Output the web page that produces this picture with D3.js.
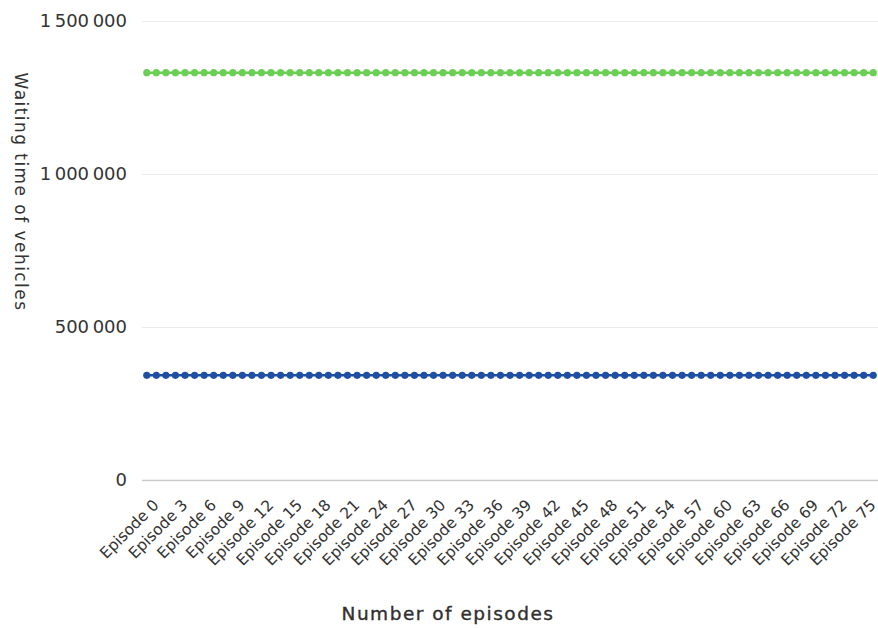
<!DOCTYPE html>
<html>
<head>
<meta charset="utf-8">
<script src="https://cdn.jsdelivr.net/npm/d3@7/dist/d3.min.js"></script>
<style>
  html, body { margin: 0; padding: 0; background: #fff; }
  svg { display: block; }
  text { font-family: "DejaVu Sans", sans-serif; fill: #333; }
</style>
</head>
<body>
<svg id="chart" width="878" height="628"></svg>
<script>
// ---- data ----
const categories = d3.range(0, 77).map(i => "Episode " + i);
const greenValues = [
  1331000,1331000,1331000,1331000,1331000,1331000,1331000,1331000,1331000,1331000,
  1331000,1331000,1331000,1331000,1331000,1331000,1331000,1331000,1331000,1331000,
  1331000,1331000,1331000,1331000,1331000,1331000,1331000,1331000,1331000,1331000,
  1331000,1331000,1331000,1331000,1331000,1331000,1331000,1331000,1331000,1331000,
  1331000,1331000,1331000,1331000,1331000,1331000,1331000,1331000,1331000,1331000,
  1331000,1331000,1331000,1331000,1331000,1331000,1331000,1331000,1331000,1331000,
  1331000,1331000,1331000,1331000,1331000,1331000,1331000,1331000,1331000,1331000,
  1331000,1331000,1331000,1331000,1331000,1331000,1331000
];
const blueValues = [
  342000,342000,342000,342000,342000,342000,342000,342000,342000,342000,
  342000,342000,342000,342000,342000,342000,342000,342000,342000,342000,
  342000,342000,342000,342000,342000,342000,342000,342000,342000,342000,
  342000,342000,342000,342000,342000,342000,342000,342000,342000,342000,
  342000,342000,342000,342000,342000,342000,342000,342000,342000,342000,
  342000,342000,342000,342000,342000,342000,342000,342000,342000,342000,
  342000,342000,342000,342000,342000,342000,342000,342000,342000,342000,
  342000,342000,342000,342000,342000,342000,342000
];
const yTicks = [0, 500000, 1000000, 1500000];
const xTickLabels = d3.range(0, 77, 3).map(i => "Episode " + i);
const xTitle = "Number of episodes";
const yTitle = "Waiting time of vehicles";

// ---- layout ----
const svg = d3.select("#chart");
const plot = { left: 142, right: 878, top: 21, bottom: 480 };

const x = d3.scaleBand().domain(categories).range([plot.left, plot.right]);
const y = d3.scaleLinear().domain([0, 1500000]).range([plot.bottom, plot.top]);

const locale = d3.formatLocale({ decimal: ".", thousands: "\u2009", grouping: [3], currency: ["", ""] });
const fmt = locale.format(",d");

// gridlines
svg.append("g").selectAll("line").data(yTicks).join("line")
  .attr("x1", plot.left).attr("x2", plot.right)
  .attr("y1", d => y(d) + 0.5).attr("y2", d => y(d) + 0.5)
  .attr("stroke", d => d === 0 ? "#cbcbcb" : "#ebebeb")
  .attr("stroke-width", d => d === 0 ? 1.5 : 1);

// y axis labels
const yAxis = d3.axisLeft(y).tickValues(yTicks).tickFormat(fmt).tickSize(0).tickPadding(0);
const gy = svg.append("g").attr("transform", `translate(${plot.left - 15},0)`).call(yAxis);
gy.select(".domain").remove();
gy.selectAll("text")
  .attr("font-family", "'DejaVu Sans', sans-serif")
  .attr("font-size", 18)
  .attr("fill", "#444");

// x axis labels
const xAxis = d3.axisBottom(x).tickValues(xTickLabels).tickSize(0).tickPadding(0);
const gx = svg.append("g").attr("transform", `translate(0,${plot.bottom + 10})`).call(xAxis);
gx.select(".domain").remove();
gx.selectAll("text")
  .attr("font-family", "'DejaVu Sans', sans-serif")
  .attr("font-size", 15.5)
  .attr("fill", "#444")
  .attr("text-anchor", "end")
  .attr("dy", null)
  .attr("y", 0)
  .attr("transform", "translate(13,16) rotate(-45)");

// lines + points
const series = [
  { values: greenValues, color: "#6ccf55" },
  { values: blueValues, color: "#1f4fa3" }
];
const cx = (d, i) => x(categories[i]) + x.bandwidth() / 2;
const line = d3.line().x(cx).y(d => y(d));
series.forEach(s => {
  svg.append("path").datum(s.values)
    .attr("d", line).attr("fill", "none")
    .attr("stroke", s.color).attr("stroke-width", 2.5);
  svg.append("g").selectAll("circle").data(s.values).join("circle")
    .attr("cx", cx)
    .attr("cy", d => y(d))
    .attr("r", 3.6)
    .attr("fill", s.color);
});

// titles
svg.append("text")
  .attr("x", 448).attr("y", 620)
  .attr("text-anchor", "middle")
  .attr("font-family", "'DejaVu Sans', sans-serif")
  .attr("font-size", 18.5)
  .attr("letter-spacing", 1.5)
  .attr("fill", "#222")
  .attr("stroke", "#222").attr("stroke-width", 0.35)
  .text(xTitle);

svg.append("text")
  .attr("transform", "translate(15,192) rotate(90)")
  .attr("text-anchor", "middle")
  .attr("font-family", "'DejaVu Sans', sans-serif")
  .attr("font-size", 17)
  .attr("letter-spacing", 1.45)
  .attr("fill", "#222")
  .text(yTitle);
</script>
</body>
</html>
